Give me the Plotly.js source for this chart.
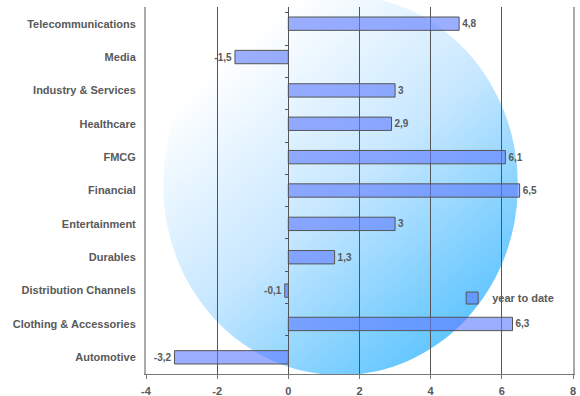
<!DOCTYPE html>
<html>
<head>
<meta charset="utf-8">
<script src="https://cdn.plot.ly/plotly-3.0.1.min.js"></script>
<style>html,body{margin:0;padding:0;background:#fff;}#chart{width:580px;height:396px;}</style>
</head>
<body>
<div id="chart"></div>
<script>
const categories = ["Telecommunications","Media","Industry & Services","Healthcare","FMCG","Financial","Entertainment","Durables","Distribution Channels","Clothing & Accessories","Automotive"];
const yearToDate = [4.8, -1.5, 3, 2.9, 6.1, 6.5, 3, 1.3, -0.1, 6.3, -3.2];
const seriesName = "year to date";
const xTicks = [-4, -2, 0, 2, 4, 6, 8];

const svg = '<svg xmlns="http://www.w3.org/2000/svg" width="355" height="380" viewBox="0 0 355 380">' +
  '<defs><linearGradient id="g" x1="0.2" y1="0.15" x2="0.8" y2="0.9">' +
  '<stop offset="0" stop-color="#ffffff"/><stop offset="0.5" stop-color="#c6e7ff"/><stop offset="1" stop-color="#62c6ff"/></linearGradient></defs>' +
  '<ellipse cx="177.5" cy="190" rx="177.5" ry="190" fill="url(#g)"/></svg>';
const svgUri = 'data:image/svg+xml;charset=utf-8,' + encodeURIComponent(svg);

const font = {family: 'Liberation Sans, Arial, sans-serif', color: '#595959', weight: 'bold'};

const traces = [
  {
    type: 'bar', orientation: 'h', name: seriesName,
    x: yearToDate, y: categories,
    width: 0.4,
    marker: {color: 'rgba(95,125,255,0.62)', line: {color: '#555', width: 1}},
    text: yearToDate.map(v => String(v).replace('.', ',')),
    textposition: 'outside', cliponaxis: false,
    textfont: Object.assign({}, font, {size: 10}),
    hoverinfo: 'x+y'
  },
  {
    type: 'scatter', mode: 'markers', x: yearToDate, y: categories,
    yaxis: 'y2', marker: {opacity: 0}, showlegend: false, hoverinfo: 'skip'
  }
];

const layout = {
  width: 580, height: 396,
  margin: {l: 146, r: 7, t: 7, b: 22, autoexpand: false},
  paper_bgcolor: '#ffffff', plot_bgcolor: 'rgba(0,0,0,0)',
  font: font,
  separators: ', ',
  showlegend: true,
  legend: {x: 0.717, y: 0.207, xanchor: 'left', yanchor: 'middle', bgcolor: 'rgba(0,0,0,0)',
           font: Object.assign({}, font, {size: 11}), itemwidth: 30},
  xaxis: {
    range: [-4, 8], tickvals: xTicks, ticktext: xTicks.map(String),
    showgrid: true, gridcolor: '#555', gridwidth: 1,
    zeroline: true, zerolinecolor: '#555', zerolinewidth: 1,
    showline: true, linecolor: '#777', linewidth: 1,
    ticks: 'outside', ticklen: 4, tickcolor: '#777',
    tickfont: Object.assign({}, font, {size: 11}),
    ticklabelstandoff: 3,
    fixedrange: true
  },
  yaxis: {
    type: 'category', categoryarray: categories, categoryorder: 'array',
    autorange: 'reversed',
    showline: true, linecolor: '#aaa', linewidth: 2, mirror: true,
    ticks: '', showgrid: false, zeroline: false,
    tickfont: Object.assign({}, font, {size: 11}),
    ticklabelstandoff: 6,
    fixedrange: true
  },
  yaxis2: {
    type: 'category', categoryarray: categories, categoryorder: 'array',
    autorange: 'reversed', overlaying: 'y', anchor: 'free', position: 1/3, side: 'left',
    showline: false, showgrid: false, zeroline: false, showticklabels: false,
    ticks: 'outside', tickson: 'boundaries', ticklen: 3, tickcolor: '#555',
    fixedrange: true
  },
  images: [{
    source: svgUri, xref: 'paper', yref: 'paper',
    x: 0.04, y: 1.033, sizex: 0.831, sizey: 1.036,
    xanchor: 'left', yanchor: 'top', sizing: 'stretch', layer: 'below'
  }],
  bargap: 0.6
};

Plotly.newPlot('chart', traces, layout, {displayModeBar: false, staticPlot: true});
</script>
</body>
</html>
